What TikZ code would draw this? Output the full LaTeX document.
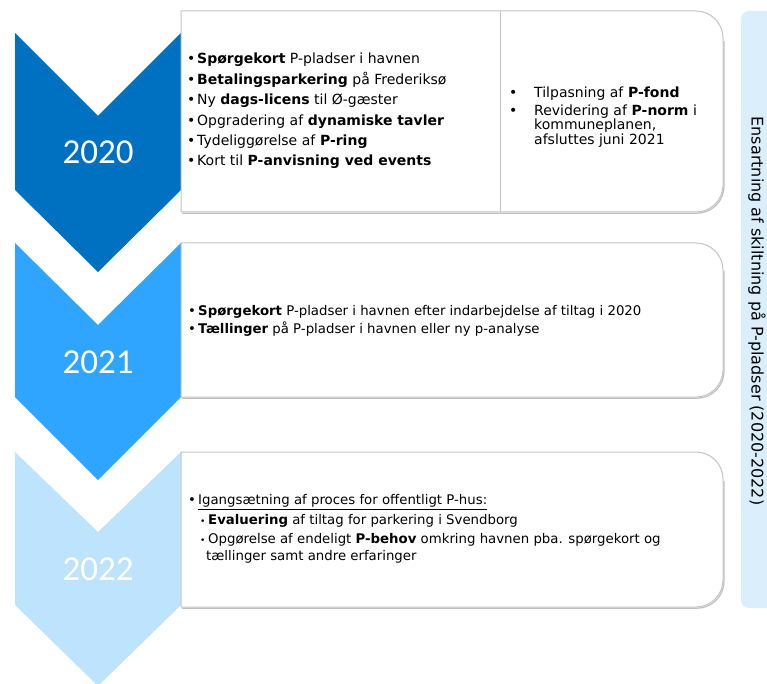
\documentclass[tikz,border=0pt]{standalone}
\usepackage{fontspec}
\setmainfont{DejaVu Sans}
\newfontfamily\yearfont{Carlito}

\definecolor{blueA}{HTML}{0070C0}
\definecolor{blueB}{HTML}{2FA5FF}
\definecolor{blueC}{HTML}{BEE3FC}
\definecolor{sidefill}{HTML}{DAEEFC}
\definecolor{boxline}{HTML}{C4C4C4}

\newcommand{\blt}{\makebox[10pt][l]{\textbullet}}
\newcommand{\wblt}{\makebox[25pt][l]{\textbullet}}
\newcommand{\sblt}{\hspace*{12pt}\makebox[8pt][l]{\fontsize{9}{9}\selectfont\textbullet}}

\begin{document}
\begin{tikzpicture}[x=1pt,y=-1pt,
    year/.style={text=white,font=\yearfont\fontsize{35}{35}\selectfont},
    items/.style={anchor=west,align=left,inner sep=0pt},
    frame/.style={draw=boxline,line width=1pt,fill=white},
    shade/.style={draw=black!25,line width=1.2pt}]
  \useasboundingbox (0,0) rectangle (767,684);

  % side bar
  \fill[sidefill,rounded corners=8pt] (741,11) rectangle (795,608);
  \node[rotate=-90,font=\fontsize{16}{16}\selectfont] (sidelabel) at (757,311)
       {Ensartning af skiltning på P-pladser (2020-2022)};

  % chevrons
  \fill[blueA] (15,33) -- (98,116) -- (181,33) -- (181,190) -- (98,272) -- (15,190) -- cycle;
  \fill[blueB] (15,243) -- (98,325) -- (181,243) -- (181,397) -- (98,480) -- (15,397) -- cycle;
  \fill[blueC] (15,452) -- (98,532) -- (181,452) -- (181,605) -- (98,686) -- (15,605) -- cycle;
  \node[year] (y2020) at (98,152) {2020};
  \node[year] (y2021) at (98,362) {2021};
  \node[year] (y2022) at (98,569) {2022};

  % boxes
  \draw[shade,shift={(1,1.2)}] (723,40) [rounded corners=27pt] -- (723,212) [sharp corners] -- (181,212);
  \draw[frame] (181,11) [rounded corners=27pt] -- (723,11) -- (723,212) [sharp corners] -- (181,212) -- cycle;
  \draw[boxline,line width=1pt] (500,11) -- (500,212);
  \draw[shade,shift={(1,1.2)}] (723,270) [rounded corners=27pt] -- (723,397) [sharp corners] -- (181,397);
  \draw[frame] (181,243) [rounded corners=27pt] -- (723,243) -- (723,397) [sharp corners] -- (181,397) -- cycle;
  \draw[shade,shift={(1,1.2)}] (723,480) [rounded corners=27pt] -- (723,607) [sharp corners] -- (181,607);
  \draw[frame] (181,452) [rounded corners=27pt] -- (723,452) -- (723,607) [sharp corners] -- (181,607) -- cycle;

  \node[items,font=\fontsize{14}{20.4}\selectfont] (items2020) at (187,111) {%
    \blt\textbf{Spørgekort} P-pladser i havnen\\
    \blt\textbf{Betalingsparkering} på Frederiksø\\
    \blt Ny \textbf{dags-licens} til Ø-gæster\\
    \blt Opgradering af \textbf{dynamiske tavler}\\
    \blt Tydeliggørelse af \textbf{P-ring}\\
    \blt Kort til \textbf{P-anvisning ved events}};
  \node[items,font=\fontsize{14}{14.5}\selectfont] (plan2020) at (509,117) {%
    \wblt Tilpasning af \textbf{P-fond}\\[3.5pt]
    \wblt Revidering af \textbf{P-norm} i\\
    \hspace*{25pt}kommuneplanen,\\
    \hspace*{25pt}afsluttes juni 2021};

  \node[items,font=\fontsize{13.3}{18}\selectfont] (items2021) at (188,321) {%
    \blt\textbf{Spørgekort} P-pladser i havnen efter indarbejdelse af tiltag i 2020\\
    \blt\textbf{Tællinger} på P-pladser i havnen eller ny p-analyse};

  \node[items,font=\fontsize{13.3}{19.5}\selectfont] (items2022) at (188,529) {%
    \blt\underline{Igangsætning af proces for offentligt P-hus:}\\
    \sblt\textbf{Evaluering} af tiltag for parkering i Svendborg\\
    \sblt Opgørelse af endeligt \textbf{P-behov} omkring havnen pba. spørgekort og\\[-2.5pt]
    \hspace*{18pt}tællinger samt andre erfaringer};
\end{tikzpicture}
\end{document}
